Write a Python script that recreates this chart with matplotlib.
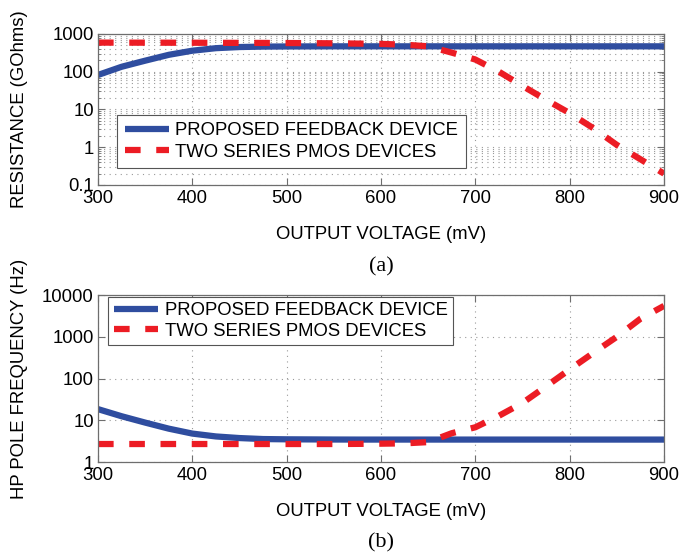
import matplotlib
matplotlib.use('Agg')
import matplotlib.pyplot as plt
from matplotlib.ticker import FixedLocator, LogLocator, FuncFormatter, NullFormatter

plt.rcParams['font.family'] = ['Liberation Sans', 'DejaVu Sans']
plt.rcParams['font.size'] = 13.3

# output voltage sweep (mV)
voltage = [300, 325, 350, 375, 400, 425, 450, 475, 500, 525, 550, 575, 600,
           625, 650, 675, 700, 725, 750, 775, 800, 825, 850, 875, 900]

# (a) small-signal resistance, GOhms
res_feedback = [82, 135, 196, 280, 360, 420, 450, 462, 466, 468, 470, 470, 470,
                470, 470, 470, 470, 470, 470, 470, 470, 470, 470, 470, 470]
res_pmos = [590, 588, 587, 586, 585, 582, 580, 578, 575, 570, 565, 555, 545,
            520, 470, 320, 210, 100, 42, 18, 8, 3.2, 1.15, 0.48, 0.2]

# (b) high-pass pole frequency, Hz
hp_feedback = [18.5, 12.5, 8.8, 6.3, 4.8, 4.1, 3.75, 3.55, 3.5, 3.48, 3.46, 3.45, 3.45,
               3.45, 3.45, 3.45, 3.45, 3.45, 3.45, 3.45, 3.45, 3.45, 3.45, 3.45, 3.45]
hp_pmos = [2.7, 2.7, 2.7, 2.7, 2.7, 2.7, 2.7, 2.7, 2.7, 2.7, 2.7, 2.72, 2.75,
           2.8, 3.0, 4.9, 6.8, 12.8, 26, 65, 165, 410, 1000, 2700, 5500]

labels = ['PROPOSED FEEDBACK DEVICE', 'TWO SERIES PMOS DEVICES']
xticks = [300, 400, 500, 600, 700, 800, 900]

blue = '#2f4d9f'
red = '#ec1c24'
frame = '#6e6e6e'
gridc = '#9a9a9a'


def style_axes(ax, yticks, ylabel):
    ax.set_yscale('log')
    ax.set_xlim(300, 900)
    ax.set_ylim(yticks[0], yticks[-1])
    ax.xaxis.set_major_locator(FixedLocator(xticks))
    ax.yaxis.set_major_locator(FixedLocator(yticks))
    ax.yaxis.set_minor_locator(LogLocator(base=10, subs=range(2, 10)))
    ax.yaxis.set_major_formatter(FuncFormatter(lambda v, p: '%g' % v))
    ax.yaxis.set_minor_formatter(NullFormatter())
    ax.grid(True, which='major', axis='both', color=gridc, linestyle=(0, (1, 4)), linewidth=0.8)
    ax.grid(True, which='minor', axis='y', color=gridc, linestyle=(0, (1, 4)), linewidth=0.8)
    ax.tick_params(which='both', direction='in', top=True, right=True, color=frame)
    ax.tick_params(which='major', length=5, pad=3)
    ax.tick_params(which='minor', length=2.5)
    ax.tick_params(axis='x', pad=3.5)
    for s in ax.spines.values():
        s.set_color(frame)
        s.set_linewidth(0.9)
    ax.set_xlabel('OUTPUT VOLTAGE (mV)', labelpad=13.5)
    ax.set_ylabel(ylabel)
    # both y labels sit in the same column at the left edge
    ax.yaxis.set_label_coords(-0.124, 0.5)
    ax.set_axisbelow(True)


def draw_lines(ax, y_fb, y_pm):
    ax.plot(voltage, y_fb, color=blue, linewidth=4.5, solid_capstyle='butt', label=labels[0])
    ax.plot(voltage, y_pm, color=red, linewidth=4.5, dashes=[2.5, 2.5],
            dash_capstyle='butt', label=labels[1])


fig = plt.figure(figsize=(6.82, 5.52), dpi=100)
ax1 = fig.add_axes([0.1437, 0.6649, 0.8299, 0.2736])
ax2 = fig.add_axes([0.1437, 0.1630, 0.8299, 0.3025])

draw_lines(ax1, res_feedback, res_pmos)
style_axes(ax1, [0.1, 1, 10, 100, 1000], 'RESISTANCE (GOhms)')
leg1 = ax1.legend(loc='upper left', bbox_to_anchor=(0.034, 0.464), borderaxespad=0,
                  fancybox=False, framealpha=1, edgecolor='#555555', handlelength=2.4,
                  handletextpad=0.35, borderpad=0.4, labelspacing=0.25)
leg1.get_frame().set_linewidth(0.8)

draw_lines(ax2, hp_feedback, hp_pmos)
style_axes(ax2, [1, 10, 100, 1000, 10000], 'HP POLE FREQUENCY (Hz)')
leg2 = ax2.legend(loc='upper left', bbox_to_anchor=(0.018, 0.99), borderaxespad=0,
                  fancybox=False, framealpha=1, edgecolor='#555555', handlelength=2.4,
                  handletextpad=0.35, borderpad=0.3, labelspacing=0.2)
leg2.get_frame().set_linewidth(0.8)

fig.text(0.559, 0.516, '(a)', ha='center', va='center', fontsize=16,
         family=['Liberation Serif', 'DejaVu Serif'])
fig.text(0.559, 0.017, '(b)', ha='center', va='center', fontsize=16,
         family=['Liberation Serif', 'DejaVu Serif'])

fig.savefig('out.png', dpi=100)
